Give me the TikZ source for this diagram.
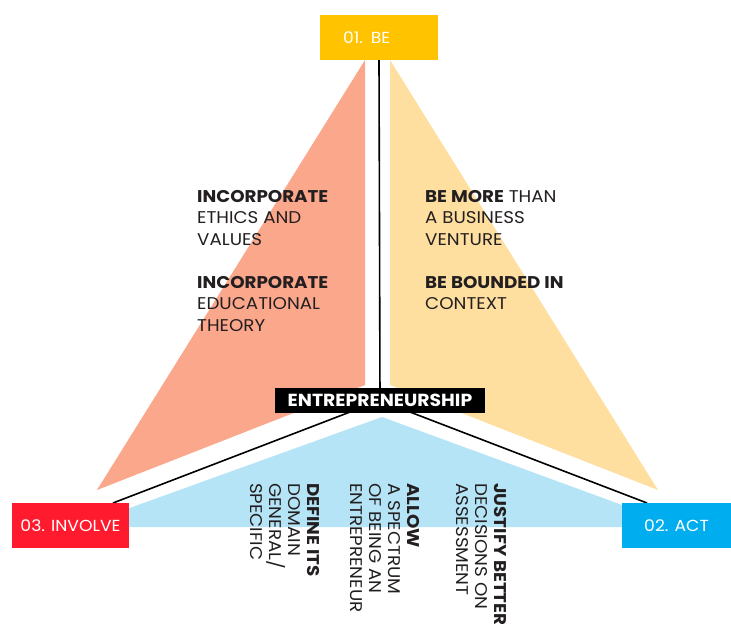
\documentclass[tikz,border=0pt]{standalone}
\usepackage{fontspec}
\setmainfont{Poppins}[FakeStretch=1.075]
\usetikzlibrary{backgrounds}
\definecolor{beY}{HTML}{FFC300}
\definecolor{triO}{HTML}{FBA78B}
\definecolor{triY}{HTML}{FEDFA0}
\definecolor{triB}{HTML}{B5E4F6}
\definecolor{invR}{HTML}{FF1A2E}
\definecolor{actB}{HTML}{00AEEF}
\definecolor{txt}{HTML}{231F20}
\begin{document}
\begin{tikzpicture}[x=1pt,y=-1pt,
  labbox/.style={draw=none,minimum height=45pt,inner ysep=0pt,text=white,font=\fontsize{16}{19}\selectfont},
  entbox/.style={fill=black,text=white,minimum width=210pt,minimum height=25pt,inner sep=0pt,font=\fontsize{17.5}{20}\selectfont\bfseries},
  conn/.style={draw=black,line width=1.6pt},
  body/.style={anchor=north west,inner sep=0pt,align=left,text=txt,font=\fontsize{17}{21.5}\selectfont},
  vbody/.style={anchor=north west,inner sep=0pt,align=left,text=txt,rotate=-90,font=\fontsize{17}{19}\selectfont}
]
\useasboundingbox (0,0) rectangle (731,628);
% nodes
\node[labbox,fill=beY,text width=72pt,align=left,inner xsep=23pt] (be) at (379,37.5) {01. BE};
\node[labbox,fill=invR,minimum width=117pt,inner xsep=0pt] (inv) at (70.5,525.5) {03. INVOLVE};
\node[labbox,fill=actB,minimum width=109pt,inner xsep=0pt] (act) at (676.5,525.5) {02. ACT};
\node[entbox] (ent) at (380,400.5) {ENTREPRENEURSHIP};
\coordinate (invtop) at (113,503);
\coordinate (acttop) at (647,503);
\begin{pgfonlayer}{background}
\fill[white] (0,0) rectangle (731,628);
\fill[triO] (365,60) -- (365,385) -- (97,490) -- cycle;
\fill[triY] (390,60) -- (390,385) -- (658,490) -- cycle;
\fill[triB] (382,417) -- (682,527) -- (77,527) -- cycle;
\draw[conn] (be.south) -- (ent.center);
\draw[conn] (ent.center) -- (invtop);
\draw[conn] (ent.center) -- (acttop);
\end{pgfonlayer}
% texts
\node[body] (t1) at (197,190) {\textbf{INCORPORATE}\\ETHICS AND\\VALUES\\[21.5pt]\textbf{INCORPORATE}\\EDUCATIONAL\\THEORY};
\node[body] (t2) at (425,190) {\textbf{BE MORE} THAN\\A BUSINESS\\VENTURE\\[21.5pt]\textbf{BE BOUNDED IN}\\CONTEXT};
\node[vbody] (v1) at (320,483) {\textbf{DEFINE ITS}\\DOMAIN\\GENERAL/\\SPECIFIC};
\node[vbody] (v2) at (420,483) {\textbf{ALLOW}\\A SPECTRUM\\OF BEING AN\\ENTREPRENEUR};
\node[vbody] (v3) at (507,483) {\textbf{JUSTIFY BETTER}\\DECISIONS ON\\ASSESSMENT};
\end{tikzpicture}
\end{document}
